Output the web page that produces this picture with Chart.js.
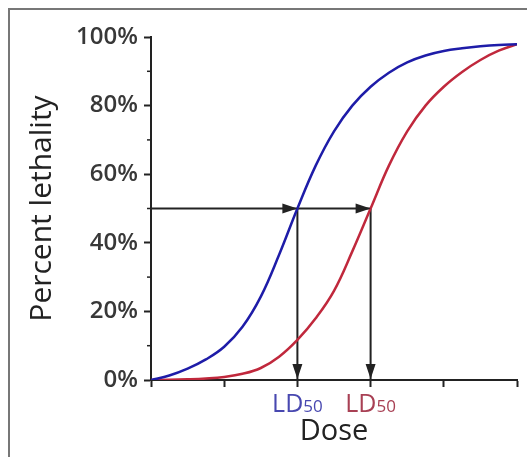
<!DOCTYPE html>
<html>
<head>
<meta charset="utf-8">
<script src="https://cdn.jsdelivr.net/npm/chart.js@4"></script>
<style>
  body { margin: 0; background: #fff; }
  #wrap { position: relative; width: 527px; height: 457px; }
  #frame { position: absolute; left: 8px; top: 8px; right: -4px; bottom: -4px;
           border-top: 2px solid #777; border-left: 2px solid #777; }
  canvas { position: absolute; left: 0; top: 0; }
</style>
</head>
<body>
<div id="wrap">
  <div id="frame"></div>
  <canvas id="chart" width="527" height="457"></canvas>
</div>
<script>
// data

const doses = [0, 0.25, 0.5, 0.75, 1, 1.25, 1.5, 1.75, 2, 2.25, 2.5,
               2.75, 3, 3.25, 3.5, 3.75, 4, 4.25, 4.5, 4.75, 5];
const blueLethality = [0, 1.3, 3.3, 6, 9.7, 15.5, 24.3, 36.5, 50, 62.5, 72.5,
                       80, 85.5, 89.6, 92.6, 94.6, 95.9, 96.7, 97.3, 97.7, 97.9];
const redLethality = [0, 0.05, 0.2, 0.45, 0.9, 1.8, 3.5, 6.8, 11.7, 18, 26,
                      37.5, 50, 62.5, 72.5, 80, 85.5, 89.8, 93.3, 96, 97.9];
const ld50Doses = [2, 3];
const ld50Colors = ['rgb(72, 72, 176)', 'rgb(168, 64, 84)'];
const ld50Level = 50;
const yTicks = [0, 20, 40, 60, 80, 100];
const yMinorTicks = [10, 30, 50, 70, 90];

const FONT = "'Open Sans', sans-serif";
const INK = '#222';

const toPoints = (xs, ys) => xs.map((x, i) => ({ x: x, y: ys[i] }));

// guide lines: one horizontal at 50%, one vertical per LD50
const guideSets = [{
  data: [{ x: 0, y: ld50Level }, { x: Math.max(...ld50Doses), y: ld50Level }]
}].concat(ld50Doses.map(d => ({
  data: [{ x: d, y: ld50Level }, { x: d, y: 0 }]
}))).map(s => Object.assign(s, {
  borderColor: INK,
  borderWidth: 2,
  pointRadius: 0,
  tension: 0,
  order: 2
}));

// plugins

const extrasPlugin = {
  id: 'extras',
  afterDraw(chart) {
    const { ctx, scales: { x, y } } = chart;
    ctx.save();

    // minor y ticks
    ctx.strokeStyle = INK;
    ctx.lineWidth = 1.5;
    yMinorTicks.forEach(v => {
      const py = y.getPixelForValue(v);
      ctx.beginPath();
      ctx.moveTo(x.left - 4, py);
      ctx.lineTo(x.left, py);
      ctx.stroke();
    });

    // arrow heads
    ctx.fillStyle = INK;
    ld50Doses.forEach(d => {
      const px = x.getPixelForValue(d);
      const py = y.getPixelForValue(ld50Level);
      ctx.beginPath();
      ctx.moveTo(px, py);
      ctx.lineTo(px - 15, py - 5);
      ctx.lineTo(px - 15, py + 5);
      ctx.closePath();
      ctx.fill();

      const by = y.getPixelForValue(0) - 1;
      ctx.beginPath();
      ctx.moveTo(px, by);
      ctx.lineTo(px - 5, by - 15);
      ctx.lineTo(px + 5, by - 15);
      ctx.closePath();
      ctx.fill();
    });

    // LD50 labels
    ctx.textBaseline = 'alphabetic';
    ctx.textAlign = 'left';
    ld50Doses.forEach((d, i) => {
      const px = x.getPixelForValue(d);
      const base = 412;
      ctx.font = '25px ' + FONT;
      const w1 = ctx.measureText('LD').width;
      ctx.font = '17px ' + FONT;
      const w2 = ctx.measureText('50').width;
      const sx = px - (w1 + w2) / 2;
      ctx.fillStyle = ld50Colors[i];
      ctx.font = '25px ' + FONT;
      ctx.fillText('LD', sx, base);
      ctx.font = '17px ' + FONT;
      ctx.fillText('50', sx + w1, base);
    });

    ctx.restore();
  }
};

// config

const config = {
  type: 'line',
  data: {
    datasets: [{
      label: 'Blue',
      data: toPoints(doses, blueLethality),
      borderColor: 'rgb(30, 28, 168)',
      borderWidth: 2.5,
      pointRadius: 0,
      tension: 0.4,
      order: 1
    }, {
      label: 'Red',
      data: toPoints(doses, redLethality),
      borderColor: 'rgb(192, 40, 60)',
      borderWidth: 2.5,
      pointRadius: 0,
      tension: 0.4,
      order: 1
    }].concat(guideSets)
  },
  options: {
    responsive: false,
    animation: false,
    layout: { padding: { top: 37, right: 10, left: 0, bottom: 0 } },
    plugins: {
      legend: { display: false },
      tooltip: { enabled: false }
    },
    scales: {
      x: {
        type: 'linear',
        min: 0,
        max: 5,
        ticks: { stepSize: 1, callback: () => '', padding: 0 },
        grid: { drawOnChartArea: false, tickLength: 7, tickColor: INK, tickWidth: 2 },
        border: { color: INK, width: 2 },
        title: {
          display: true,
          text: 'Dose',
          color: INK,
          font: { family: FONT, size: 29 },
          padding: { top: 0, bottom: 8 }
        },
        afterFit: s => { s.height = 77; }
      },
      y: {
        min: 0,
        max: 100,
        afterBuildTicks: s => { s.ticks = yTicks.map(v => ({ value: v })); },
        ticks: {
          callback: v => v + '%',
          color: '#383838',
          padding: 6,
          font: { family: FONT, size: 24, weight: '600' }
        },
        grid: { drawOnChartArea: false, tickLength: 7, tickColor: INK, tickWidth: 2 },
        border: { color: INK, width: 2 },
        title: {
          display: true,
          text: 'Percent lethality',
          color: INK,
          font: { family: FONT, size: 30 },
          padding: { top: 24, bottom: 0 }
        },
        afterFit: s => { s.width = 151; }
      }
    }
  },
  plugins: [extrasPlugin]
};

new Chart(document.getElementById('chart'), config);
</script>
</body>
</html>
